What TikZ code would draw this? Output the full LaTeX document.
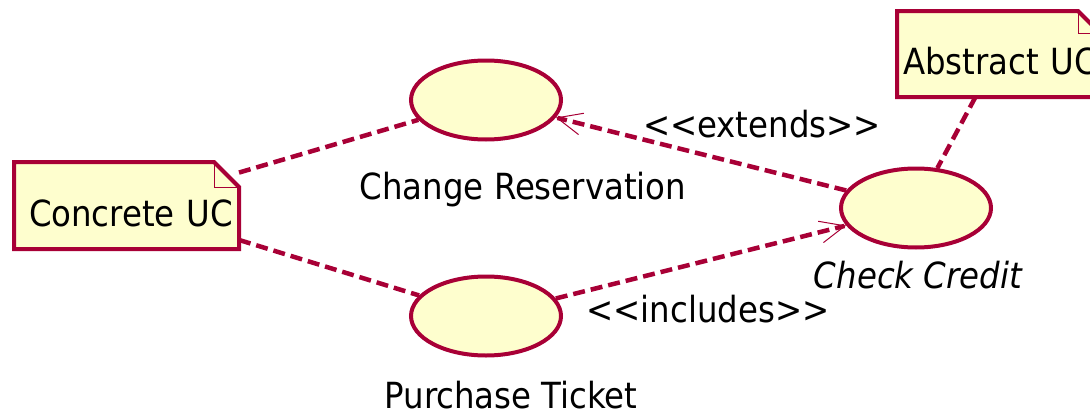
\documentclass[tikz,border=0pt]{standalone}
\usepackage{fontspec}
\setmainfont{DejaVu Sans Condensed}
\usetikzlibrary{positioning, arrows.meta, shapes.geometric, backgrounds}

\definecolor{umlred}{HTML}{A80036}
\definecolor{umlfill}{HTML}{FEFECE}
\newcommand\stereo[1]{<\kern0pt<#1>\kern0pt>}

\begin{document}
\begin{tikzpicture}[x=1pt, y=-1pt,
    usecase/.style  = {ellipse, draw=umlred, fill=umlfill, line width=4pt,
                       minimum width=150pt, minimum height=79pt, inner sep=0pt},
    note/.style     = {rectangle, outer sep=0pt, inner ysep=0pt, align=left,
                       text height=41pt, text depth=0pt,
                       font=\fontsize{36}{40}\selectfont},
    noteline/.style = {draw=umlred, fill=umlfill, line width=4pt},
    fold/.style     = {draw=umlred, line width=1pt},
    caption/.style  = {anchor=base, font=\fontsize{36}{40}\selectfont},
    assoc/.style    = {draw=umlred, line width=4.5pt, dash pattern=on 12pt off 6pt},
    dep/.style      = {assoc, -{Straight Barb[length=25pt, width=22pt, line width'=1pt]}},
  ]
    \useasboundingbox (0,0) rectangle (1090,415);

    % --- notes ---
    \node[note, minimum width=225pt, minimum height=87pt, inner xsep=15pt,
          text width=195pt] (cuc) at (126.5,205.5) {\mbox{Concrete UC}};
    \node[note, minimum width=203pt, minimum height=86pt, inner xsep=6pt,
          text width=191pt] (auc) at (998.5,54) {\mbox{Abstract UC}};

    \begin{scope}[on background layer]
      \foreach \n/\f in {cuc/25pt, auc/22pt} {
        \draw[noteline] (\n.north west) -- ([xshift=-\f]\n.north east)
          -- ([yshift=-\f]\n.north east) -- (\n.south east) -- (\n.south west) -- cycle;
        \draw[fold] ([xshift=-\f]\n.north east) |- ([yshift=-\f]\n.north east);
      }
    \end{scope}

    % --- use cases ---
    \node[usecase] (chg) at (486,100) {};
    \node[usecase] (buy) at (486,316) {};
    \node[usecase] (chk) at (916,208) {};

    \node[caption] (chgl) at (523,199) {Change Reservation};
    \node[caption] (buyl) at (511,408) {Purchase Ticket};
    \node[caption] (chkl) at (918,288) {\itshape Check Credit};

    % --- connectors ---
    \draw[assoc] (cuc) -- (chg);
    \draw[assoc] (cuc) -- (buy);
    \draw[assoc] (auc) -- (chk);
    \draw[dep] (chk) -- (chg);
    \draw[dep] (buy) -- (chk);

    \node[caption] (ext) at (762,137) {\stereo{extends}};
    \node[caption] (inc) at (708,322) {\stereo{includes}};
\end{tikzpicture}
\end{document}
